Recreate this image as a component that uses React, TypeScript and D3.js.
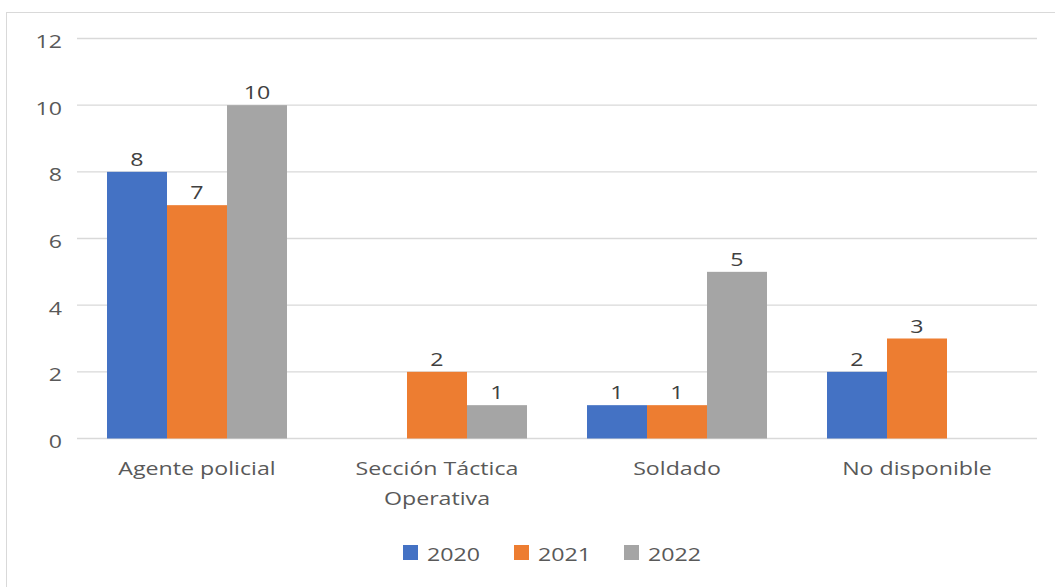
import React from "react";
import * as d3 from "d3";

const categories: string[][] = [["Agente policial"], ["Sección Táctica", "Operativa"], ["Soldado"], ["No disponible"]];
const seriesNames = ["2020", "2021", "2022"];
const values2020: (number | null)[] = [8, null, 1, 2];
const values2021: (number | null)[] = [7, 2, 1, 3];
const values2022: (number | null)[] = [10, 1, 5, null];
const yTicks = [0, 2, 4, 6, 8, 10, 12];
const colors = ["#4472C4", "#ED7D31", "#A5A5A5"];

const SX = 1.22;

function T(props: { x: number; y: number; anchor?: string; size?: number; fill?: string; children: React.ReactNode }) {
  const { x, y, anchor = "start", size = 19, fill = "#595959", children } = props;
  return (
    <text transform={`translate(${x},${y}) scale(${SX},1)`} textAnchor={anchor} fontSize={size} fill={fill}>
      {children}
    </text>
  );
}

export default function App() {
  const W = 1055, H = 587;
  const left = 77, right = 1037, top = 38.5, bottom = 438.5;
  const series = [values2020, values2021, values2022];
  const x = d3.scaleBand<number>().domain(categories.map((_, i) => i)).range([left, right]).paddingInner(0.25).paddingOuter(0.125);
  const xs = d3.scaleBand<number>().domain([0, 1, 2]).range([0, x.bandwidth()]);
  const y = d3.scaleLinear().domain([0, 12]).range([bottom, top]);
  const font = "'Open Sans', 'Noto Sans', sans-serif";
  const legendX = [403, 514, 624];
  return (
    <svg width={W} height={H} style={{ position: "absolute", left: 0, top: 0, background: "#fff" }} fontFamily={font}>
      <rect x={6.5} y={12.5} width={1100} height={700} fill="#fff" stroke="#d9d9d9" strokeWidth={1} />
      {yTicks.map((t) => (
        <g key={t}>
          <line x1={left} x2={right} y1={y(t)} y2={y(t)} stroke="#d9d9d9" strokeWidth={1.3} />
          <T x={62} y={y(t) + 9.5} anchor="end">{t}</T>
        </g>
      ))}
      {series.map((vals, si) =>
        vals.map((v, ci) =>
          v == null ? null : (
            <g key={`${si}-${ci}`}>
              <rect x={(x(ci) as number) + (xs(si) as number)} y={y(v)} width={xs.bandwidth()} height={y(0) - y(v)} fill={colors[si]} />
              <T x={(x(ci) as number) + (xs(si) as number) + xs.bandwidth() / 2} y={y(v) - 6} anchor="middle" fill="#404040">{v}</T>
            </g>
          )
        )
      )}
      {categories.map((lines, ci) =>
        lines.map((l, li) => (
          <T key={`${ci}-${li}`} x={(x(ci) as number) + x.bandwidth() / 2} y={475 + li * 30} anchor="middle">{l}</T>
        ))
      )}
      {seriesNames.map((n, i) => (
        <g key={n}>
          <rect x={legendX[i]} y={545} width={15} height={15} fill={colors[i]} />
          <T x={legendX[i] + 24} y={561}>{n}</T>
        </g>
      ))}
    </svg>
  );
}
